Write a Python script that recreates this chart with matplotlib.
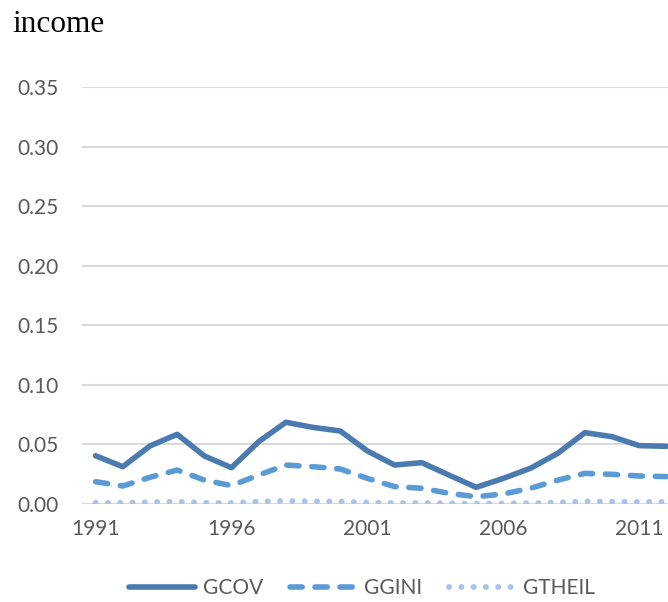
import numpy as np
import matplotlib.pyplot as plt

years = list(range(1991, 2013))
gcov = [0.0405, 0.0313, 0.0487, 0.0585, 0.0403, 0.0305, 0.0523, 0.0686, 0.0643, 0.0613,
        0.0445, 0.0327, 0.0347, 0.0243, 0.0140, 0.0215, 0.0300, 0.0425, 0.0599, 0.0565,
        0.0490, 0.0484]
ggini = [0.0187, 0.0151, 0.0224, 0.0285, 0.0201, 0.0154, 0.0243, 0.0327, 0.0313, 0.0294,
         0.0215, 0.0146, 0.0132, 0.0090, 0.0061, 0.0084, 0.0132, 0.0200, 0.0257, 0.0249,
         0.0235, 0.0230]
gtheil = [0.0010, 0.0010, 0.0015, 0.0020, 0.0010, 0.0008, 0.0020, 0.0025, 0.0022, 0.0020,
          0.0012, 0.0008, 0.0008, 0.0005, 0.0003, 0.0004, 0.0007, 0.0012, 0.0022, 0.0020,
          0.0017, 0.0017]
yticks = [0.0, 0.05, 0.10, 0.15, 0.20, 0.25, 0.30, 0.35]
xlabels = ['1991', '1996', '2001', '2006', '2011']

fig = plt.figure(figsize=(6.68, 6.02), dpi=100)
ax = fig.add_axes([82/668, 98/602, 598/668, 417/602])

x = np.arange(len(years))
lw = 4.0
ax.plot(x, gcov, color='#4a7ab0', lw=lw, solid_capstyle='round', solid_joinstyle='round', label='GCOV')
ax.plot(x, ggini, color='#5b9bd5', lw=lw, dashes=(2.2, 2.3), dash_capstyle='round', label='GGINI')
ax.plot(x, gtheil, color='#a9c4e8', lw=4.3, dashes=(0.01, 2.05), dash_capstyle='round', label='GTHEIL')

ax.set_xlim(-0.5, 21.5)
ax.set_ylim(0, 0.35)
ax.set_yticks(yticks)
ax.set_yticklabels(['%.2f' % v for v in yticks])
xt = [years.index(int(s)) for s in xlabels]
ax.set_xticks(xt)
ax.set_xticklabels(xlabels)

for s in ax.spines.values():
    s.set_visible(False)
ax.grid(axis='y', color='#d9d9d9', lw=1.5)
ax.set_axisbelow(True)
ax.tick_params(length=0, labelsize=15, labelcolor='#595959')
ax.tick_params(axis='y', pad=17)
ax.tick_params(axis='x', pad=11)
for t in ax.get_xticklabels() + ax.get_yticklabels():
    t.set_family('Lato')

fig.text(12/668, 1 - 24/602, 'income', family='Liberation Serif', fontsize=22.5, va='center', ha='left')

leg = fig.legend(loc='center', bbox_to_anchor=(362/668, 1 - 588/602), ncol=3, frameon=False,
                 handlelength=3.2, handletextpad=0.35, columnspacing=1.3,
                 prop={'family': 'Lato', 'size': 15})
for t in leg.get_texts():
    t.set_color('#595959')

fig.savefig('out.png', dpi=100)
